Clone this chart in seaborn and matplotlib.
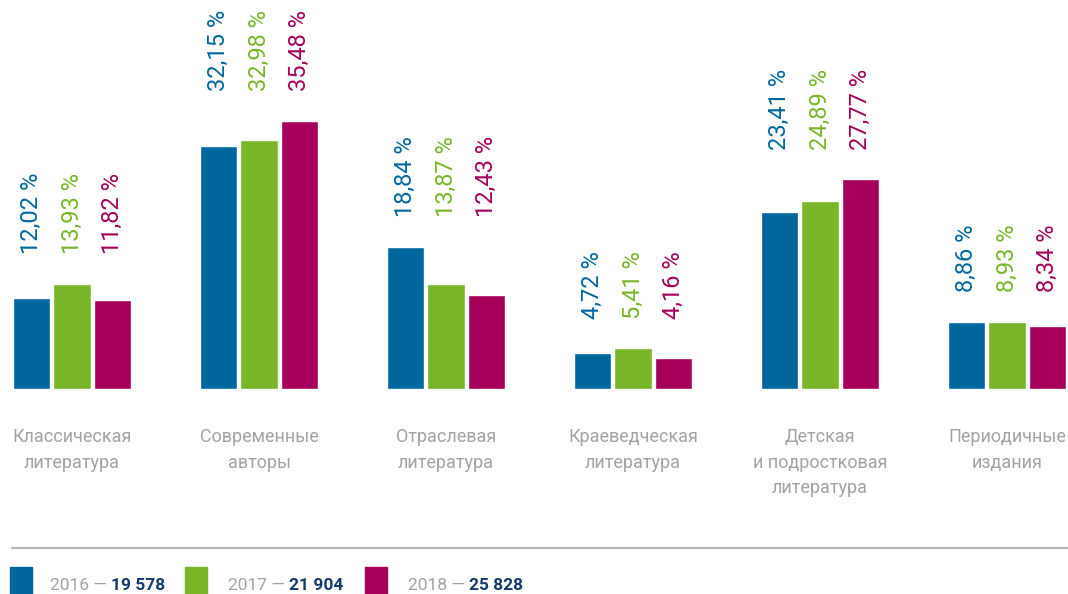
import pandas as pd
import numpy as np
import matplotlib.pyplot as plt
import seaborn as sns
from matplotlib.patches import Rectangle
from matplotlib.lines import Line2D

categories = ["Классическая\nлитература", "Современные\nавторы", "Отраслевая\nлитература",
              "Краеведческая\nлитература", "Детская\nи подростковая\nлитература",
              "Периодичные\nиздания"]
years = ["2016", "2017", "2018"]
totals = ["19 578", "21 904", "25 828"]
share_2016 = [12.02, 32.15, 18.84, 4.72, 23.41, 8.86]
share_2017 = [13.93, 32.98, 13.87, 5.41, 24.89, 8.93]
share_2018 = [11.82, 35.48, 12.43, 4.16, 27.77, 8.34]

colors = ["#00679e", "#79b62a", "#a6005a"]
navy = "#153a6b"
grey = "#a3a3a3"

sns.set_style("white")
plt.rcParams['font.family'] = ['Roboto', 'DejaVu Sans']

df = pd.DataFrame({
    "cat": categories * 3,
    "year": [y for y in years for _ in categories],
    "val": share_2016 + share_2017 + share_2018,
})

fig = plt.figure(figsize=(10.68, 5.94), dpi=100)
ax = fig.add_axes([0, 0.345, 1, 0.655])

sns.barplot(data=df, x="cat", y="val", hue="year", palette=colors, order=categories,
            hue_order=years, width=0.65, gap=0.07, legend=False, saturation=1, ax=ax)

ax.set_xlim(-0.385, 5.326)
ax.set_ylim(0, 51.48)
sns.despine(ax=ax, left=True, bottom=True)
ax.set_yticks([])
ax.set_xlabel("")
ax.set_ylabel("")
ax.tick_params(axis="x", length=0, pad=28, labelsize=13, labelcolor=grey)
for lbl in ax.get_xticklabels():
    lbl.set_linespacing(1.55)

# value labels, bottom-aligned per group above the tallest bar
group_max = np.max([share_2016, share_2017, share_2018], axis=0)
for cont, col, vals in zip(ax.containers, colors, [share_2016, share_2017, share_2018]):
    for i, (bar, v) in enumerate(zip(cont, vals)):
        xc = bar.get_x() + bar.get_width() / 2
        ax.text(xc, group_max[i] + 3.9, f"{v:.2f} %".replace(".", ","), rotation=90,
                ha="center", va="bottom", color=col, fontsize=17, clip_on=False)

# separator line
fig.add_artist(Line2D([12 / 1068, 1], [1 - 548 / 594] * 2, color="#b5b5b5", lw=1.5))

# legend
sq_x = [10, 185, 365]
txt_x = [50, 228, 408]
for i in range(3):
    fig.add_artist(Rectangle((sq_x[i] / 1068, 0), 22 / 1068, 27 / 594,
                             color=colors[i], transform=fig.transFigure))
    t = fig.text(txt_x[i] / 1068, 4 / 594, f"{years[i]} — ", color=grey, fontsize=12.5,
                 va="baseline", ha="left")
    ax.annotate(totals[i], xy=(1, 0), xycoords=t, va="bottom", ha="left",
                color=navy, fontsize=12.5, fontweight="bold", annotation_clip=False)

fig.savefig("out.png", dpi=100)
